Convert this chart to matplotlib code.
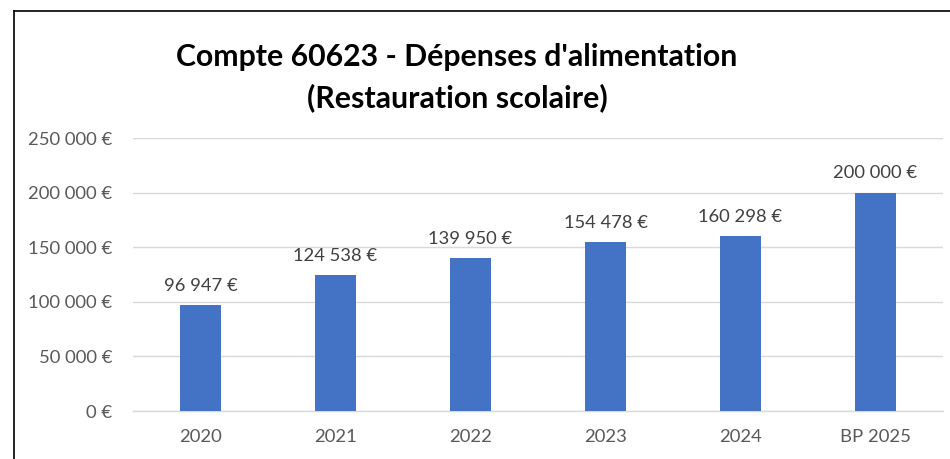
import matplotlib
matplotlib.use("Agg")
import matplotlib.pyplot as plt
from matplotlib.lines import Line2D
from matplotlib.ticker import FuncFormatter

categories = ["2020", "2021", "2022", "2023", "2024", "BP 2025"]
values = [96947, 124538, 139950, 154478, 160298, 200000]
yticks = [0, 50000, 100000, 150000, 200000, 250000]

plt.rcParams['font.family'] = ['Lato', 'DejaVu Sans']

def fmt(v):
    return "{:,.0f} €".format(v).replace(",", " ")

fig = plt.figure(figsize=(9.5, 4.59), dpi=100)
W, H = 950, 459
ax = fig.add_axes([133 / W, 48 / H, 810 / W, 273 / H])

x = range(len(categories))
bars = ax.bar(x, values, width=0.31, color="#4472C4", zorder=3)
ax.set_xlim(-0.5, len(categories) - 0.5)
ax.set_ylim(0, 250000)
ax.set_yticks(yticks)
ax.yaxis.set_major_formatter(FuncFormatter(lambda v, p: fmt(v)))
ax.set_xticks(list(x))
ax.set_xticklabels(categories)
ax.grid(axis="y", color="#d9d9d9", linewidth=1.0, zorder=0)
for s in ["top", "right", "left"]:
    ax.spines[s].set_visible(False)
ax.spines["bottom"].set_color("#d9d9d9")
ax.spines["bottom"].set_linewidth(1.0)
ax.tick_params(axis="both", length=0, labelsize=13.3, colors="#595959")
ax.tick_params(axis="y", pad=15)
ax.tick_params(axis="x", pad=13)

for i, v in enumerate(values):
    ax.annotate(fmt(v), (i, v), xytext=(0, 8), textcoords="offset points",
                ha="center", va="bottom", fontsize=13.2, color="#404040")

fig.text(457 / W, 1 - 57 / H, "Compte 60623 - Dépenses d'alimentation",
         ha="center", va="center", fontsize=21.8, fontweight="bold", color="black")
fig.text(457 / W, 1 - 98 / H, "(Restauration scolaire)",
         ha="center", va="center", fontsize=21.8, fontweight="bold", color="black")

# chart border (left and top visible)
fig.add_artist(Line2D([14 / W, 14 / W], [0, 1 - 11 / H], transform=fig.transFigure,
                      color="black", linewidth=1.2))
fig.add_artist(Line2D([14 / W, 1], [1 - 11 / H, 1 - 11 / H], transform=fig.transFigure,
                      color="black", linewidth=1.2))

fig.savefig("out.png", dpi=100, facecolor="white")
